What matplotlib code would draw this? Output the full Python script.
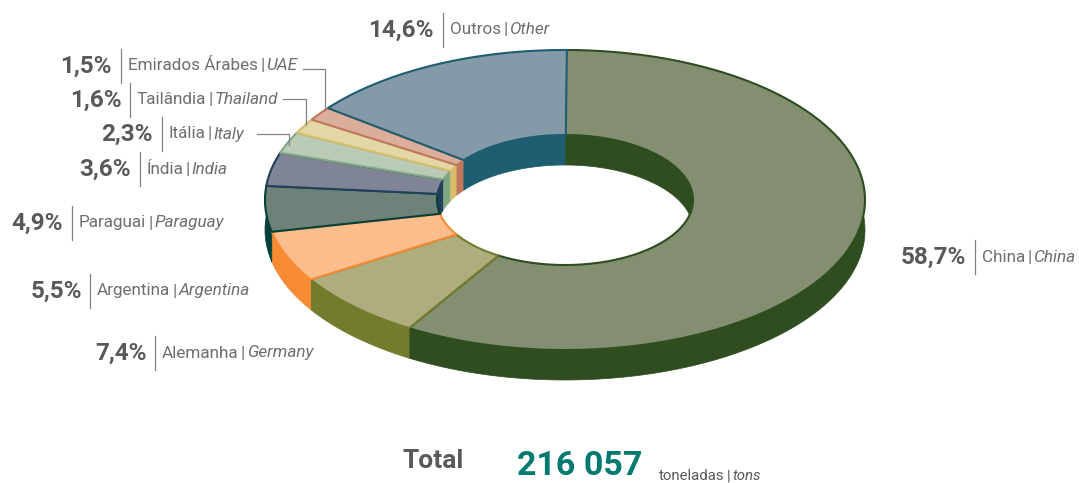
import numpy as np
import matplotlib
matplotlib.use('Agg')
import matplotlib.pyplot as plt
from matplotlib.patches import Polygon

# Shares, clockwise from the top of the ring
names_pt = ['China', 'Alemanha', 'Argentina', 'Paraguai', 'Índia', 'Itália', 'Tailândia', 'Emirados Árabes', 'Outros']
names_en = ['China', 'Germany', 'Argentina', 'Paraguay', 'India', 'Italy', 'Thailand', 'UAE', 'Other']
shares = [58.7, 7.4, 5.5, 4.9, 3.6, 2.3, 1.6, 1.5, 14.6]
total_value = '216 057'

top_colors = ['#848f72', '#aead7e', '#fbbd8c', '#6e827a', '#7f8596', '#b9cab5', '#e3d6a7', '#dbad9b', '#859aa8']
wall_colors = ['#2f4d20', '#747b2c', '#f68b33', '#043f38', '#243f5c', '#81a883', '#d8be6a', '#c0775c', '#1f5d70']

# Layout in pixels: right edge of the percentage, divider x, row y
label_pos = [(966, 975, 257), (147, 155, 353), (82, 90, 291), (63, 72, 223), (131, 139.5, 169),
             (153, 161.5, 134), (122, 130, 100), (112, 121, 66), (434, 443, 30)]

FONT = ['Roboto']
GREY = '#58595b'
CX, CY = 565, 200
RX, RY = 300, 150
IRX, IRY = 128, 65
DEPTH = 30

plt.rcParams['font.family'] = FONT

fig = plt.figure(figsize=(10.79, 4.83), dpi=100)
ax = fig.add_axes([0, 0, 1, 1])
ax.set_xlim(0, 1079)
ax.set_ylim(483, 0)
ax.axis('off')


def arc(t0, t1, rx, ry, dy=0):
    t = np.radians(np.linspace(t0, t1, max(int(abs(t1 - t0)) * 2, 2) + 1))
    return np.column_stack([CX + rx * np.sin(t), CY + dy - ry * np.cos(t)])


edges = np.concatenate([[0], np.cumsum(shares)]) * 3.6

# outer walls, the top faces hide the back part
for i in range(len(shares)):
    top = arc(edges[i], edges[i + 1], RX, RY)
    low = arc(edges[i], edges[i + 1], RX, RY, DEPTH)
    ax.add_patch(Polygon(np.vstack([top, low[::-1]]), fc=wall_colors[i], ec=wall_colors[i], lw=0.5, zorder=1))

# inner walls, only the back half of the hole shows
for i in range(len(shares)):
    for lo, hi in [(0, 90), (270, 360)]:
        t0, t1 = max(edges[i], lo), min(edges[i + 1], hi)
        if t1 <= t0:
            continue
        top = arc(t0, t1, IRX, IRY)
        low = arc(t0, t1, IRX, IRY, DEPTH)
        ax.add_patch(Polygon(np.vstack([top, low[::-1]]), fc=wall_colors[i], ec=wall_colors[i], lw=0.5, zorder=2))

# top faces
for i in range(len(shares)):
    outer = arc(edges[i], edges[i + 1], RX, RY)
    inner = arc(edges[i], edges[i + 1], IRX, IRY)
    ax.add_patch(Polygon(np.vstack([outer, inner[::-1]]), fc=top_colors[i], ec=wall_colors[i], lw=1.5,
                         joinstyle='miter', zorder=3 + i))

fig.canvas.draw()
renderer = fig.canvas.get_renderer()


def pieces(x, y, parts, size, color):
    # one line made of upright and italic bits, set one after the other
    for s, style in parts:
        t = ax.text(x, y, s, fontsize=size, color=color, style=style, ha='left', va='center', zorder=20)
        x = ax.transData.inverted().transform(t.get_window_extent(renderer).get_points())[1, 0] + 2


for i in range(len(shares)):
    right, bar, y = label_pos[i]
    pct = f'{shares[i]:.1f}%'.replace('.', ',')
    ax.text(right, y, pct, fontsize=17.5, fontweight='bold', color=GREY, ha='right', va='center')
    ax.plot([bar, bar], [y - 17, y + 17], color='#808285', lw=0.9, zorder=20)
    pieces(bar + 7, y, [(names_pt[i], 'normal'), ('|', 'normal'), (names_en[i], 'italic')], 12.3, '#6d6e71')

# leader lines of the three small slices
for xs, ys in [([303, 325, 325], [69, 69, 110]), ([283, 306, 306], [99, 99, 125]), ([257, 289, 289], [134, 134, 145])]:
    ax.plot(xs, ys, color='#808285', lw=0.9, zorder=20)

ax.text(433, 461, 'Total', fontsize=19, fontweight='bold', color=GREY, ha='center', va='center')
ax.text(580, 466, total_value, fontsize=24.5, fontweight='bold', color='#007a70', ha='center', va='center')
pieces(659, 476, [('toneladas', 'normal'), ('|', 'normal'), ('tons', 'italic')], 10.8, '#58595b')

fig.savefig('out.png', dpi=100)
